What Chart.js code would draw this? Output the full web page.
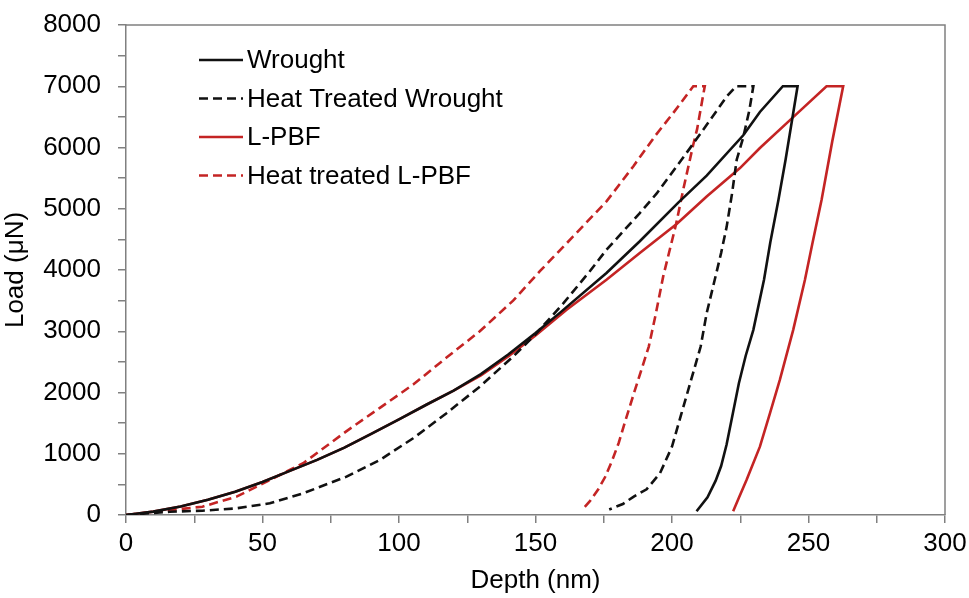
<!DOCTYPE html>
<html>
<head>
<meta charset="utf-8">
<script src="https://cdn.jsdelivr.net/npm/chart.js@4.4.1/dist/chart.umd.min.js"></script>
<style>
  html, body { margin: 0; padding: 0; background: #fff; }
  #wrap { width: 969px; height: 598px; }
</style>
</head>
<body>
<div id="wrap"><canvas id="loadChart" width="969" height="598"></canvas></div>
<script>
// Nanoindentation load-depth curves.
const wroughtDepth = [0, 10, 20, 30, 40, 50, 60, 70, 80, 90, 100, 110, 120, 130, 140, 150, 158.9, 176, 188.2, 202.3, 212.7, 226.1, 232.2, 240.6, 246, 241.6, 239, 236, 233.7, 229.8, 227, 224.5, 222.3, 220, 218, 216, 213, 209];
const wroughtLoad = [0, 55, 140, 250, 380, 540, 720, 900, 1100, 1330, 1560, 1800, 2030, 2300, 2620, 2970, 3300, 3950, 4470, 5100, 5540, 6200, 6580, 7000, 7000, 5800, 5147, 4450, 3840, 3023, 2600, 2150, 1660, 1150, 800, 560, 290, 60];

const htWroughtDepth = [0, 16, 28, 40.5, 52.7, 64.9, 80.8, 93, 105.2, 117.4, 129.6, 141.8, 150, 160.1, 169.9, 176, 188.2, 194.4, 206.6, 214, 220, 223.5, 229.8, 228.3, 226, 223.7, 222, 220, 218, 216.3, 212.7, 210.5, 207, 203.5, 200, 195.6, 190.7, 186, 182, 177];
const htWroughtLoad = [0, 54, 70, 109, 191, 354, 626, 899, 1253, 1662, 2096, 2587, 2950, 3450, 3980, 4330, 4930, 5250, 5990, 6450, 6830, 7000, 7000, 6600, 6150, 5800, 5250, 4700, 4280, 3960, 3296, 2750, 2206, 1662, 1116, 681, 420, 300, 180, 90];

const lpbfDepth = [0, 10, 20, 30, 40, 50, 60, 70, 80, 90, 100, 110, 120, 130, 140, 150, 161.4, 176, 188.2, 201.7, 212.7, 224.9, 232.2, 244, 256.6, 262.7, 258.7, 254.8, 251.5, 248.7, 244.4, 239.5, 235.9, 232.2, 227.3, 224.5, 222.4];
const lpbfLoad = [0, 55, 140, 250, 380, 540, 720, 900, 1100, 1330, 1560, 1800, 2030, 2280, 2590, 2930, 3350, 3840, 4276, 4750, 5201, 5664, 5991, 6480, 7000, 7000, 6100, 5147, 4450, 3840, 3023, 2206, 1662, 1116, 572, 280, 60];

const htLpbfDepth = [0, 14, 28, 40.5, 52.7, 64.9, 80.8, 93, 105.2, 117.4, 129.6, 141.8, 151.6, 163.8, 176, 185.8, 194, 200.4, 207.8, 212, 211, 209.2, 207.8, 204.1, 201.5, 196.8, 194, 191.5, 189, 186, 183, 180.5, 178, 175.5, 173, 170, 167];
const htLpbfLoad = [0, 70, 136, 300, 572, 845, 1370, 1750, 2130, 2570, 3000, 3500, 3980, 4548, 5120, 5691, 6200, 6560, 7000, 7000, 6750, 6300, 6050, 5310, 4750, 3900, 3270, 2750, 2400, 1980, 1550, 1180, 880, 620, 420, 230, 80];

const seriesNames = ['Wrought', 'Heat Treated Wrought', 'L-PBF', 'Heat treated L-PBF'];

const black = '#111111';
const red = '#c42424';
const dash = [9, 5];
const fontFamily = '"Liberation Sans", Arial, sans-serif';
const fontSize = 26;

function pairs(xs, ys) {
  return xs.map((x, i) => ({ x: x, y: ys[i] }));
}

function curve(label, xs, ys, color, dashed) {
  return {
    label: label,
    data: pairs(xs, ys),
    showLine: true,
    borderColor: color,
    backgroundColor: color,
    borderWidth: 2.6,
    borderDash: dashed ? dash : [],
    pointRadius: 0,
    tension: 0,
    fill: false
  };
}

// legend sits inside the plot, top left, like the original
const insideLegend = {
  id: 'insideLegend',
  afterDraw(chart) {
    const ctx = chart.ctx;
    const a = chart.chartArea;
    chart.data.datasets.forEach((ds, i) => {
      const y = a.top + 35 + i * 38.5;
      ctx.save();
      ctx.strokeStyle = ds.borderColor;
      ctx.lineWidth = 2.6;
      ctx.setLineDash(ds.borderDash);
      ctx.beginPath();
      ctx.moveTo(a.left + 73, y);
      ctx.lineTo(a.left + 117, y);
      ctx.stroke();
      ctx.setLineDash([]);
      ctx.fillStyle = '#000';
      ctx.font = fontSize + 'px ' + fontFamily;
      ctx.textBaseline = 'middle';
      ctx.fillText(ds.label, a.left + 121, y + 1);
      ctx.restore();
    });
  }
};

// top and right edges of the frame
const frame = {
  id: 'frame',
  afterDraw(chart) {
    const ctx = chart.ctx;
    const a = chart.chartArea;
    ctx.save();
    ctx.strokeStyle = '#808080';
    ctx.lineWidth = 1.5;
    ctx.beginPath();
    ctx.moveTo(a.left, a.top);
    ctx.lineTo(a.right, a.top);
    ctx.lineTo(a.right, a.bottom);
    ctx.stroke();
    ctx.restore();
  }
};

const ctx = document.getElementById('loadChart').getContext('2d');
const myChart = new Chart(ctx, {
  type: 'scatter',
  data: {
    datasets: [
      curve(seriesNames[0], wroughtDepth, wroughtLoad, black, false),
      curve(seriesNames[1], htWroughtDepth, htWroughtLoad, black, true),
      curve(seriesNames[2], lpbfDepth, lpbfLoad, red, false),
      curve(seriesNames[3], htLpbfDepth, htLpbfLoad, red, true)
    ]
  },
  options: {
    responsive: false,
    animation: false,
    devicePixelRatio: 1,
    layout: { padding: { top: 25, right: 24, left: 0, bottom: 0 } },
    plugins: {
      legend: { display: false },
      tooltip: { enabled: false }
    },
    scales: {
      x: {
        type: 'linear',
        min: 0,
        max: 300,
        afterFit: function(scale) {
          scale.height = 83;
          scale.paddingLeft = 0;
          scale.paddingRight = 0;
        },
        border: { display: true, color: '#808080', width: 1.5 },
        grid: { drawOnChartArea: false, drawTicks: true, tickLength: 8, color: '#808080', lineWidth: 1.5 },
        ticks: {
          stepSize: 25,
          autoSkip: false,
          maxRotation: 0,
          padding: 5,
          color: '#000',
          font: { family: fontFamily, size: fontSize },
          callback: function(value) {
            return value % 50 === 0 ? value : '';
          }
        },
        title: {
          display: true,
          text: 'Depth (nm)',
          color: '#000',
          font: { family: fontFamily, size: fontSize },
          padding: { top: 0, bottom: 2 }
        }
      },
      y: {
        type: 'linear',
        min: 0,
        max: 8000,
        afterFit: function(scale) {
          scale.width = 126;
          scale.paddingTop = 0;
          scale.paddingBottom = 0;
        },
        border: { display: true, color: '#808080', width: 1.5 },
        grid: { drawOnChartArea: false, drawTicks: true, tickLength: 8, color: '#808080', lineWidth: 1.5 },
        ticks: {
          stepSize: 500,
          autoSkip: false,
          padding: 17,
          color: '#000',
          font: { family: fontFamily, size: fontSize },
          callback: function(value) {
            return value % 1000 === 0 ? value : '';
          }
        },
        title: {
          display: true,
          text: 'Load (μN)',
          color: '#000',
          font: { family: fontFamily, size: fontSize },
          padding: { top: 0, bottom: 0 }
        }
      }
    }
  },
  plugins: [insideLegend, frame]
});
</script>
</body>
</html>
